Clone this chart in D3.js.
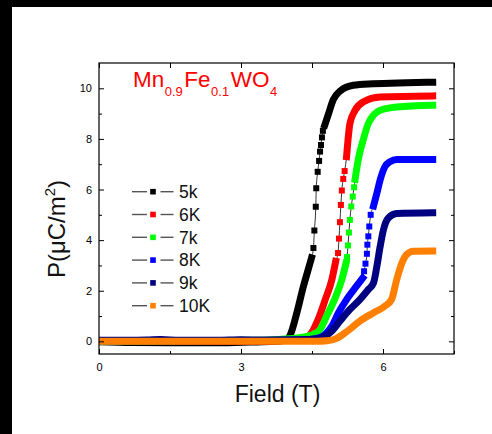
<!DOCTYPE html>
<html><head><meta charset="utf-8">
<script src="https://cdn.jsdelivr.net/npm/d3@7"></script>
<style>
html,body{margin:0;padding:0;background:#fff;}
svg{display:block;font-family:"Liberation Sans",Arial,Helvetica,sans-serif;}
</style></head><body>
<svg id="chart" width="492" height="434"></svg>
<script>
// Polarization P (µC/m²) versus applied field (T) for Mn0.9Fe0.1WO4
const seriesNames = ["5k", "6K", "7k", "8K", "9k", "10K"];
const seriesColors = ["#000000", "#ff0000", "#00ff00", "#0000ff", "#000080", "#ff8000"];

// [field (T), P (µC/m²)]
const p5k = [[0,-0.02],[0.7,-0.05],[1.5,-0.06],[2.5,-0.06],[3.2,-0.03],[3.7,0],[3.95,0.05],[4.04,0.25],[4.18,1.13],[4.32,2.18],[4.46,3.1],[4.49,3.3],
  [4.53,3.69],[4.55,4.38],[4.58,5.32],[4.59,6.05],[4.62,6.7],[4.65,7.13],[4.67,7.5],[4.69,7.76],[4.71,8.06],[4.73,8.32],
  [4.77,8.55],[4.85,9.0],[4.95,9.55],[5.1,9.9],[5.37,10.12],[5.79,10.18],[6.5,10.22],[7.05,10.24]];
const p6k = [[0,0],[3.5,0],[4.2,0.08],[4.42,0.2],[4.49,0.34],[4.63,0.87],[4.78,1.65],[4.92,2.44],[5.0,3.16],
  [5.05,3.49],[5.07,4.06],[5.09,4.71],[5.11,5.39],[5.13,5.96],[5.16,6.42],[5.19,6.73],
  [5.23,7.3],[5.26,7.95],[5.3,8.6],[5.41,9.13],[5.58,9.46],[5.94,9.66],[7.05,9.7]];
const p7k = [[0,0],[3.5,0.04],[4.0,0.1],[4.4,0.2],[4.53,0.28],[4.67,0.47],[4.81,1.0],[4.99,1.72],[5.13,2.44],[5.22,3.1],
  [5.24,3.33],[5.26,3.79],[5.28,4.3],[5.3,4.8],[5.33,5.33],[5.36,5.72],[5.39,6.09],
  [5.41,6.4],[5.44,6.77],[5.49,7.3],[5.58,7.95],[5.69,8.61],[5.8,8.94],[5.94,9.13],[6.29,9.26],[7.05,9.33]];
const p8k = [[0,0.02],[3.5,0.03],[4.3,0.06],[4.6,0.12],[4.78,0.28],[4.92,0.6],[5.06,1.13],[5.23,1.65],[5.44,2.18],[5.57,2.5],
  [5.6,2.77],[5.63,3.07],[5.66,3.46],[5.67,3.82],[5.69,4.15],[5.71,4.54],[5.74,5.0],
  [5.8,5.35],[5.87,5.85],[5.94,6.38],[6.04,6.9],[6.15,7.1],[6.29,7.19],[7.05,7.19]];
const p9k = [[0,0.04],[1.0,0.05],[1.3,0.07],[1.7,0.04],[2.5,0.04],[3.0,0.06],[3.5,0.05],[4.3,0.06],[4.6,0.1],[4.78,0.21],[4.92,0.41],
  [5.09,0.8],[5.3,1.26],[5.51,1.65],[5.69,2.05],[5.8,2.31],[5.87,2.96],[5.94,3.75],[6.01,4.41],[6.11,4.87],[6.29,5.05],[7.05,5.08]];
const p10k = [[0,0],[3,0],[4.6,0],[4.81,0.02],[5.02,0.12],[5.23,0.38],[5.51,0.8],[5.8,1.13],[6.04,1.39],[6.18,1.65],
  [6.29,2.44],[6.4,3.1],[6.5,3.43],[6.64,3.56],[7.05,3.57]];
const seriesData = [p5k, p6k, p7k, p8k, p9k, p10k];

// Field spans where consecutive readings sit apart as single symbols
const sparseSpans = [[4.5, 4.75], [5.02, 5.21], [5.23, 5.4], [5.58, 5.77], null, null];

const xMajor = [0, 3, 6], xMinor = [1.5, 4.5, 7.5];
const yMajor = [0, 2, 4, 6, 8, 10], yMinor = [1, 3, 5, 7, 9];

const svg = d3.select("#chart");
svg.append("rect").attr("width", 492).attr("height", 434).attr("fill", "#fff");
svg.append("rect").attr("x", 0).attr("y", 0).attr("width", 492).attr("height", 7).attr("fill", "#000");
svg.append("rect").attr("x", 0).attr("y", 0).attr("width", 12).attr("height", 434).attr("fill", "#000");

const L = 99, R = 454, T = 63, B = 354;
const x = d3.scaleLinear().domain([0, 7.5]).range([L, R]);
const y = d3.scaleLinear().domain([-0.5, 11]).range([B, T]);

svg.append("defs").append("clipPath").attr("id", "plotclip")
  .append("rect").attr("x", L).attr("y", T).attr("width", R - L).attr("height", B - T);

const plot = svg.append("g").attr("clip-path", "url(#plotclip)");
const line = d3.line().x(d => x(d[0])).y(d => y(d[1])).curve(d3.curveMonotoneX);
const SYM = 6;

seriesData.forEach((pts, i) => {
  const c = seriesColors[i];
  const span = sparseSpans[i];
  const g = plot.append("g");
  // thin connecting line
  g.append("path").attr("d", line(pts)).attr("fill", "none")
    .attr("stroke", "#333").attr("stroke-width", 1);
  let bands, dots = [];
  if (span) {
    bands = [pts.filter(d => d[0] < span[0]), pts.filter(d => d[0] > span[1])];
    dots = pts.filter(d => d[0] >= span[0] && d[0] <= span[1]);
  } else {
    bands = [pts];
  }
  bands.forEach(b => {
    g.append("path").attr("d", line(b)).attr("fill", "none")
      .attr("stroke", c).attr("stroke-width", 7)
      .attr("stroke-linejoin", "round").attr("stroke-linecap", "square");
  });
  g.selectAll("rect.sym").data(dots).join("rect").attr("class", "sym")
    .attr("x", d => x(d[0]) - SYM / 2).attr("y", d => y(d[1]) - SYM / 2)
    .attr("width", SYM).attr("height", SYM).attr("fill", c);
});

// axes with inward ticks
function styleAxis(g) {
  g.select(".domain").remove();
  g.selectAll("line").attr("stroke", "#000").attr("stroke-width", 1);
  g.selectAll("text").attr("fill", "#000").style("font-size", "11px")
    .style("font-family", '"Liberation Sans", Arial, sans-serif');
}
svg.append("g").attr("transform", `translate(0,${B})`)
  .call(d3.axisBottom(x).tickValues(xMajor).tickSize(-5).tickPadding(9).tickFormat(d3.format("d"))).call(styleAxis);
svg.append("g").attr("transform", `translate(0,${B})`)
  .call(d3.axisBottom(x).tickValues(xMinor).tickSize(-3).tickFormat("")).call(styleAxis);
svg.append("g").attr("transform", `translate(0,${T})`)
  .call(d3.axisTop(x).tickValues(xMajor.concat(xMinor)).tickSize(-5).tickFormat("")).call(styleAxis);
svg.append("g").attr("transform", `translate(${L},0)`)
  .call(d3.axisLeft(y).tickValues(yMajor).tickSize(-5).tickPadding(7).tickFormat(d3.format("d"))).call(styleAxis);
svg.append("g").attr("transform", `translate(${L},0)`)
  .call(d3.axisLeft(y).tickValues(yMinor).tickSize(-3).tickFormat("")).call(styleAxis);
svg.append("g").attr("transform", `translate(${R},0)`)
  .call(d3.axisRight(y).tickValues(yMajor).tickSize(-5).tickFormat("")).call(styleAxis);
svg.append("g").attr("transform", `translate(${R},0)`)
  .call(d3.axisRight(y).tickValues(yMinor).tickSize(-3).tickFormat("")).call(styleAxis);

svg.append("rect").attr("x", L).attr("y", T).attr("width", R - L).attr("height", B - T)
  .attr("fill", "none").attr("stroke", "#000").attr("stroke-width", 1.2);

// axis titles
svg.append("text").attr("x", (L + R) / 2 + 1).attr("y", 402).attr("text-anchor", "middle")
  .attr("fill", "#111").style("font-size", "23px").text("Field (T)");
const yl = svg.append("text").attr("transform", "translate(65,229) rotate(-90)")
  .attr("text-anchor", "middle").attr("fill", "#111").style("font-size", "24px");
yl.append("tspan").text("P(\u03bcC/m");
yl.append("tspan").attr("dy", -10).style("font-size", "15px").text("2");
yl.append("tspan").attr("dy", 10).text(")");

// compound label
const ttl = svg.append("text").attr("x", 133).attr("y", 86.7).attr("fill", "#ff0000").style("font-size", "22.5px");
[["Mn", 0], ["0.9", 1], ["Fe", 0], ["0.1", 1], ["WO", 0], ["4", 1]].forEach(([s, sub], k, arr) => {
  const prevSub = k > 0 ? arr[k - 1][1] : 0;
  const t = ttl.append("tspan").text(s);
  if (sub) t.attr("dy", 9.3).attr("dx", 0.5).style("font-size", "13px");
  else if (prevSub) t.attr("dy", -9.3).attr("dx", 1.5);
});

// legend
const lg = svg.append("g");
seriesNames.forEach((n, i) => {
  const cy = 191.7 + i * 22.8;
  lg.append("line").attr("x1", 132).attr("x2", 147).attr("y1", cy).attr("y2", cy)
    .attr("stroke", "#555").attr("stroke-width", 1.4);
  lg.append("line").attr("x1", 160.5).attr("x2", 173.5).attr("y1", cy).attr("y2", cy)
    .attr("stroke", "#555").attr("stroke-width", 1.4);
  lg.append("rect").attr("x", 150.2).attr("y", cy - 2.8).attr("width", 5.6).attr("height", 5.6)
    .attr("fill", seriesColors[i]);
  lg.append("text").attr("x", 179).attr("y", cy).attr("dy", "0.36em").attr("fill", "#111")
    .style("font-size", "17.5px").text(n);
});
</script></body></html>
